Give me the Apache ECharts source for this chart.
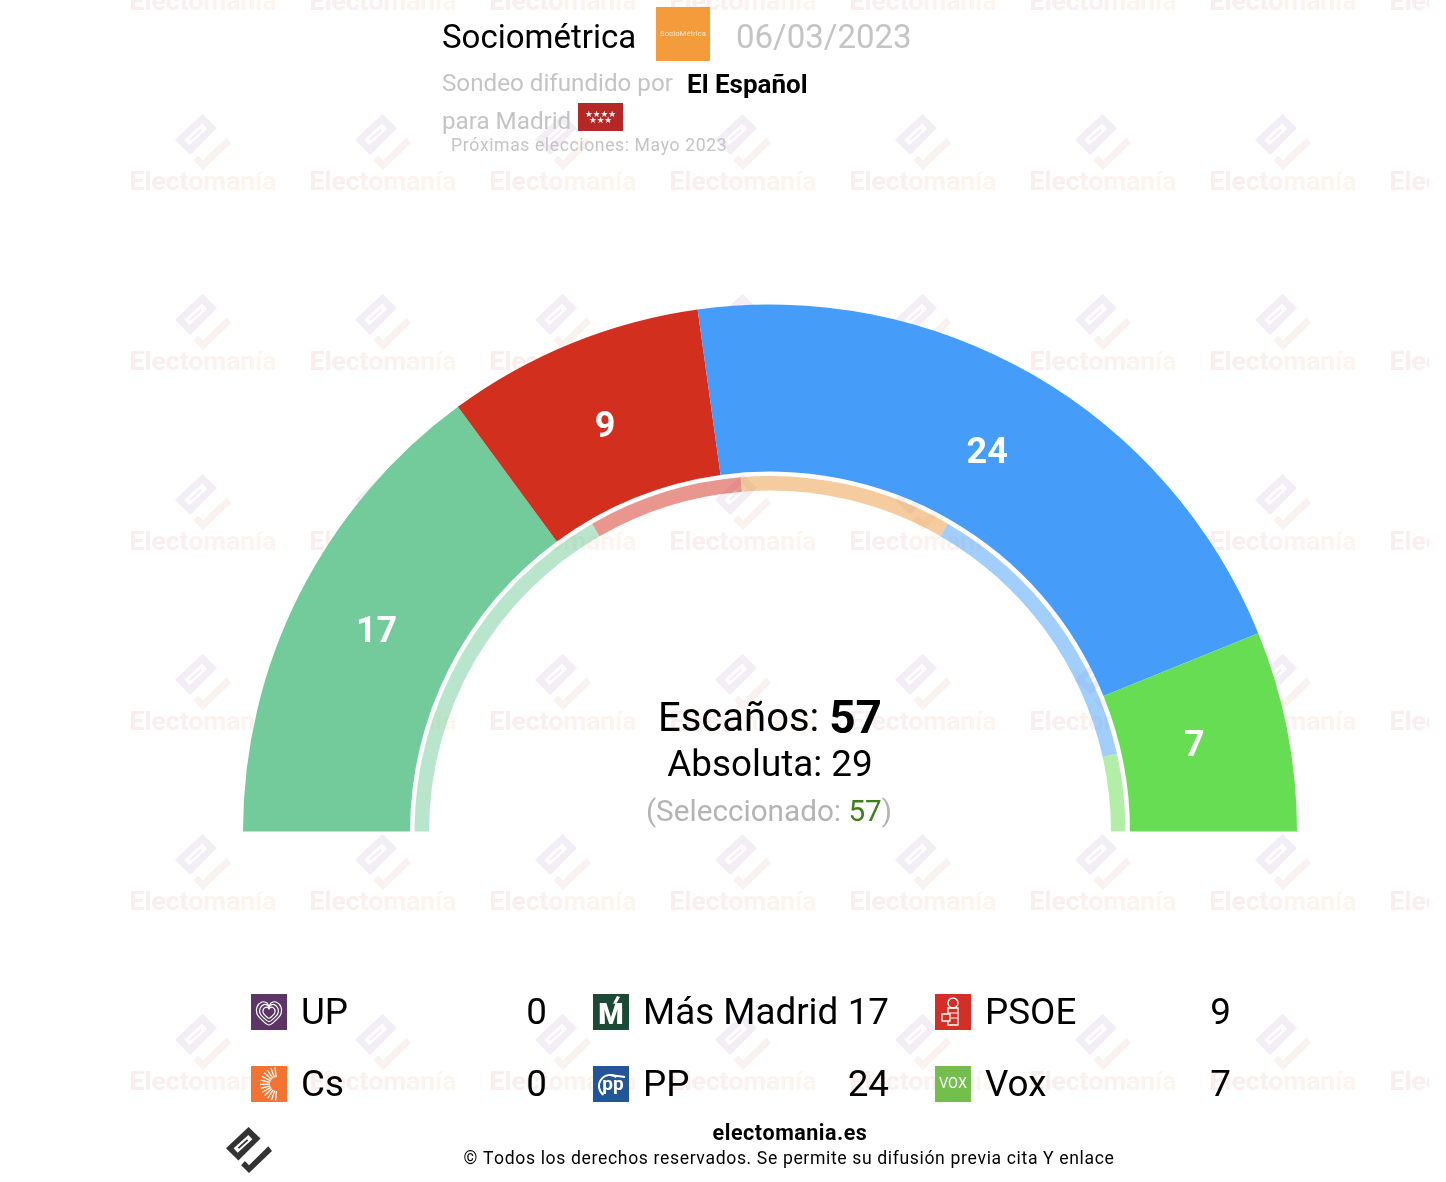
<!DOCTYPE html>
<html><head><meta charset="utf-8">
<style>html,body{margin:0;padding:0;background:#fff;overflow:hidden}#c{width:1446px;height:1182px}</style>
<script src="https://cdn.jsdelivr.net/npm/echarts@6/dist/echarts.min.js"></script>
</head><body><div id="c"></div>
<script>
var parties = ['UP','Cs','Más Madrid','PP','PSOE','Vox'];
var seats = [0,0,17,24,9,7];
var arcParties = ['Más Madrid','PSOE','PP','Vox'];
var arcSeats = [17,9,24,7];
var arcColors = ['#73CB9B','#D32F1E','#469DF9','#66DD52'];
var prevParties = ['Más Madrid','PSOE','Cs','PP','Vox'];
var prevSeats = [19,8,11,15,4];
var prevColors = ['#73CB9B','#D32F1E','#EB9A3E','#469DF9','#66DD52'];
var totalSeats = 57, majority = 29, selected = 57;
var labelNudge = [[5,3],[3,10],[-6,9],[-14,1]];
var F = 'Roboto, sans-serif';
var g = [];
function Z(z,d){return z==null?d:z;}
function T(text,x,y,size,fill,opt){opt=opt||{};g.push({type:'text',silent:true,z:opt.z||20,style:{text:text,x:x,y:y+2.5,font:(opt.w||'400')+' '+size+'px '+(opt.f||F),fill:fill,align:opt.a||'left',verticalAlign:'middle',rich:opt.rich}});}
// letter-spaced text: one rich token per character, each with right padding
function S(text,x,y,size,fill,sp,opt){opt=opt||{};var rich={},out='',font=(opt.w||'400')+' '+size+'px '+F;
  text.split('').forEach(function(ch,i){rich['k'+i]={font:font,fill:fill,padding:[0,sp,0,0]};out+='{k'+i+'|'+ch+'}';});
  T(out,x,y,size,fill,{a:opt.a,w:opt.w,rich:rich});}
function R(x,y,w,h,fill,z){g.push({type:'rect',silent:true,z:Z(z,15),shape:{x:x,y:y,width:w,height:h},style:{fill:fill}});}
function P(pts,ox,oy,s,fill,z){g.push({type:'polygon',silent:true,z:Z(z,15),shape:{points:pts.map(function(p){return [ox+p[0]*s,oy+p[1]*s];})},style:{fill:fill}});}
function L(x1,y1,x2,y2,c,w,z){g.push({type:'line',silent:true,z:Z(z,16),shape:{x1:x1,y1:y1,x2:x2,y2:y2},style:{stroke:c,lineWidth:w}});}
var logoBody=[[49,0],[75,25],[27,73],[0,46]];
var logoCheck=[[92,42],[100,52],[50,100],[33,83],[41,74],[50,83]];
function logo(ox,oy,s,c1,c2,slot,z){
  P(logoBody,ox,oy,s,c1,z);
  P(logoCheck,ox,oy,s,c2,z);
  L(ox+21*s,oy+51*s,ox+53*s,oy+22*s,slot,13*s,z);
  L(ox+27*s,oy+46*s,ox+47*s,oy+28*s,c1,4*s,z);
}
// watermark
var wmWord='Electomanía', wmRich={}, wmText='';
var wmCols=['#FAEDEE','#FAEEEE','#FBEEEE','#FBEFEE','#FBF0EE','#FCF1EE','#FCF2EE','#FDF3EE','#FDF4EE','#FEF5EE','#FEF6EE'];
wmWord.split('').forEach(function(ch,i){wmRich['c'+i]={font:'700 26.4px '+F,fill:wmCols[i]};wmText+='{c'+i+'|'+ch+'}';});
var wmX=[203,383,563,743,923,1103,1283,1463], wmY=[1,181,361,541,721,901,1081];
wmY.forEach(function(y){wmX.forEach(function(x){
  g.push({type:'text',silent:true,z:0,style:{text:wmText,rich:wmRich,x:x,y:y+2,font:'700 26.4px '+F,align:'center',verticalAlign:'middle'}});
  if(y>100) logo(x-28,y-67,0.56,'#F3EDF6','#FAF2EE','#FFFFFF',0);
});});
R(1429,0,17,1182,'#FFFFFF',1);
// header
T('Sociométrica',442,37,33,'#000');
R(656,7,54,54,'#F49C3C');
T('SocioMétrica',683,31.5,7.8,'#FBE6CC',{a:'center'});
T('06/03/2023',736,37,33,'#C4C4C4');
T('Sondeo difundido por',442,82.5,24.2,'#C4C4C4');
T('El Español',687,84,26,'#000',{w:'700'});
T('para Madrid',442,120,24.2,'#C4C4C4');
R(578,103,45,28,'#B62826');
T('★★★★',600.5,112,8.6,'#fff',{a:'center',f:'DejaVu Sans'});
T('★★★',600.5,118.5,8.6,'#fff',{a:'center',f:'DejaVu Sans'});
S('Próximas elecciones: Mayo 2023',451,144,17.6,'#C4C4C4',0.6);
// centre
T('{a|Escaños: }{b|'+totalSeats+'}',770,718.5,0,'#000',{a:'center',rich:{a:{font:'400 40px '+F,fill:'#000'},b:{font:'700 46px '+F,fill:'#000'}}});
T('Absoluta: '+majority,770,764,36.8,'#000',{a:'center'});
T('{a|(Seleccionado: }{b|'+selected+'}{c|)}',769,811,0,'#000',{a:'center',rich:{a:{font:'400 29.7px '+F,fill:'#B4B4B4'},b:{font:'400 29.7px '+F,fill:'#3F7F1D'},c:{font:'400 29.7px '+F,fill:'#B4B4B4'}}});
// legend
var iconColors=['#5C3566','#F37430','#1D4A37','#225699','#D32F27','#74BE4E'];
var colX=[251,593,935], rowY=[994,1066];
parties.forEach(function(name,i){
  var col=Math.floor(i/2), row=i%2;
  var x=colX[col], y=rowY[row];
  R(x,y,36,36,iconColors[i]);
  T(name,x+50,y+18.5,36.8,'#000');
  T(String(seats[i]),x+296,y+18.5,36.8,'#000',{a:'right'});
});
// UP heart
var heart=[[0,13],[-7,8],[-12,2],[-12,-5],[-7,-10],[-2,-9],[0,-6],[2,-9],[7,-10],[12,-5],[12,2],[7,8]];
[1,0.74,0.48].forEach(function(s){g.push({type:'polygon',silent:true,z:16,shape:{smooth:0.35,points:heart.map(function(p){return [269+p[0]*s,1012+p[1]*s];})},style:{fill:'none',stroke:'#fff',lineWidth:1.2}});});
// Cs rays
for(var a=95;a<=265;a+=14){var r=a*Math.PI/180,cx=277,cy=1084;L(cx+7*Math.cos(r),cy+7*Math.sin(r),cx+17*Math.cos(r),cy+17*Math.sin(r),'#fff',1.3);}
// MM
T('M',611,1014.5,29,'#fff',{a:'center',w:'900'});
P([[617,996],[620,997],[616,1004],[613,1003.5]],0,0,1,'#fff',16);
// PP
T('pp',613,1083,19,'#fff',{a:'center',w:'700'});
g.push({type:'arc',silent:true,z:16,shape:{cx:610,cy:1086,r:11,startAngle:Math.PI*0.7,endAngle:Math.PI*1.7},style:{stroke:'#fff',fill:'none',lineWidth:2}});
L(610,1075,625,1077,'#fff',2);
// PSOE
g.push({type:'circle',silent:true,z:16,shape:{cx:953,cy:1003,r:5},style:{fill:'none',stroke:'#fff',lineWidth:1.4}});
g.push({type:'rect',silent:true,z:16,shape:{x:948,y:1008,width:10,height:17},style:{fill:'none',stroke:'#fff',lineWidth:1.3}});
g.push({type:'rect',silent:true,z:17,shape:{x:942,y:1014,width:8,height:7},style:{fill:'#D32F27',stroke:'#fff',lineWidth:1.3}});
L(948,1013,958,1013,'#fff',1);L(948,1018,958,1018,'#fff',1);
// Vox
T('VOX',953,1082,14.5,'#fff',{a:'center',w:'400'});
// footer
logo(226,1127,0.46,'#333333','#333333','#FFFFFF',15);
S('electomania.es',790,1132,21.5,'#000',0.5,{a:'center',w:'700'});
S('© Todos los derechos reservados. Se permite su difusión previa cita Y enlace',789,1157,17.6,'#000',0.63,{a:'center'});

var chart=echarts.init(document.getElementById('c'),null,{renderer:'canvas',width:1446,height:1182});
chart.setOption({
  animation:false,
  backgroundColor:'#fff',
  tooltip:{show:false},
  graphic:{elements:g},
  series:[
    {type:'pie',z:3,silent:true,center:[770,831.5],radius:[360,527],startAngle:180,endAngle:0,clockwise:true,
     label:{show:true,position:'inside',formatter:'{c}',color:'#fff',fontFamily:F,fontWeight:700,fontSize:36},labelLine:{show:false},
     labelLayout:function(p){return {dx:labelNudge[p.dataIndex][0],dy:labelNudge[p.dataIndex][1]};},
     data:arcParties.map(function(n,i){return {name:n,value:arcSeats[i],itemStyle:{color:arcColors[i]}};})},
    {type:'pie',z:3,silent:true,center:[770,831.5],radius:[341,355.5],startAngle:180,endAngle:0,clockwise:true,
     label:{show:false},labelLine:{show:false},
     data:prevParties.map(function(n,i){return {name:n,value:prevSeats[i],itemStyle:{color:prevColors[i],opacity:0.5}};})}
  ]
});
</script></body></html>
